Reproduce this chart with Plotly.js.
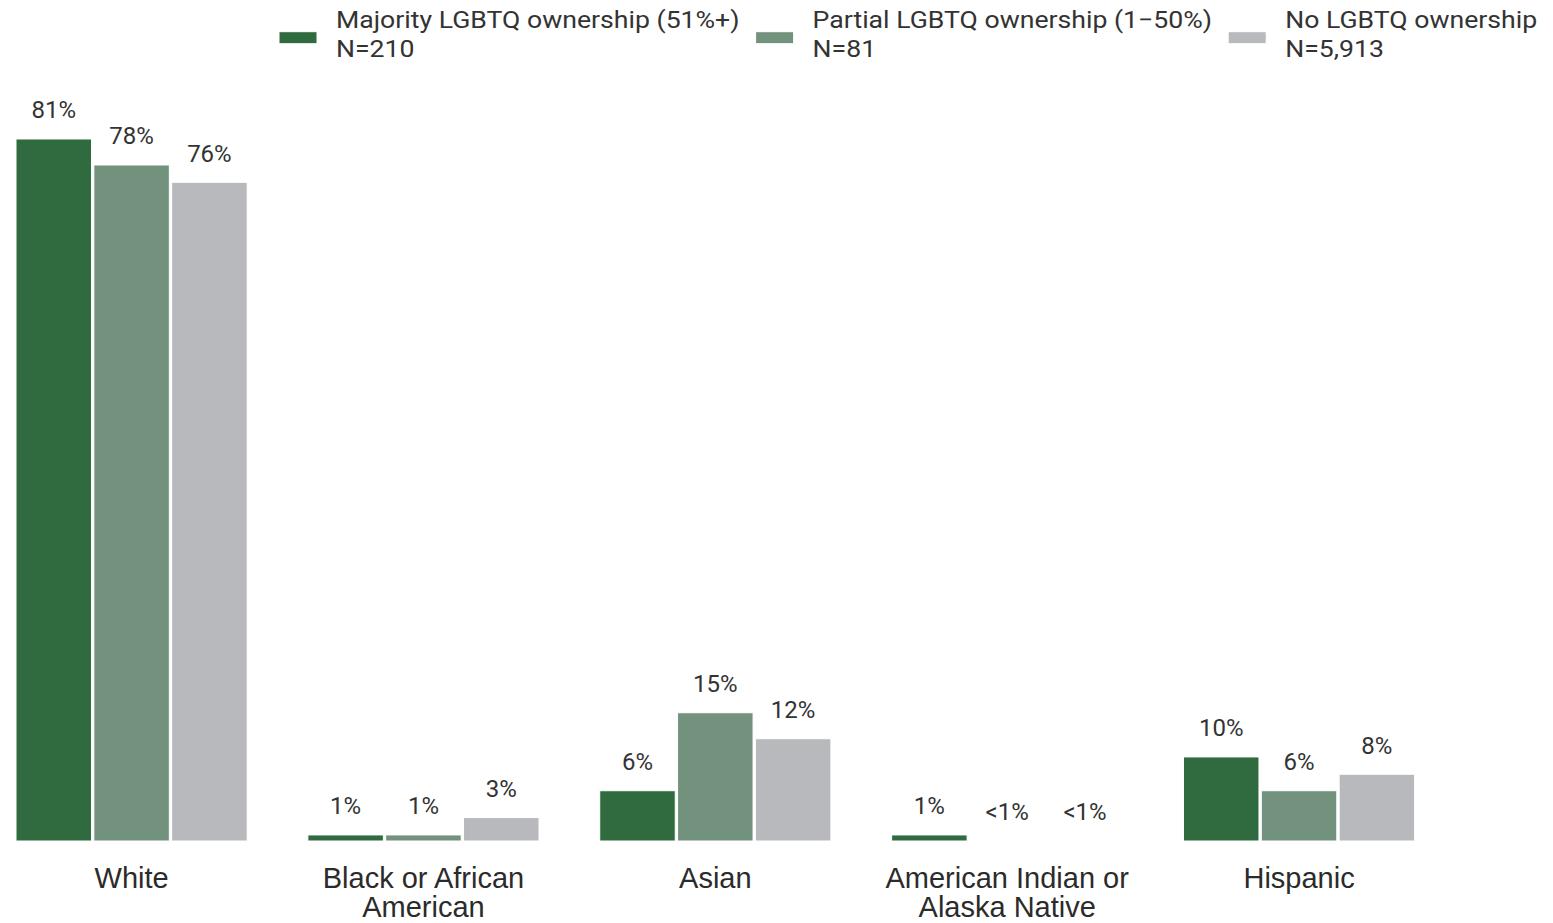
<!DOCTYPE html>
<html><head><meta charset="utf-8">
<script src="https://cdn.plot.ly/plotly-3.0.1.min.js"></script>
<style>html,body{margin:0;padding:0;background:#fff}#chart{width:1553px;height:923px}</style>
</head><body><div id="chart"></div>
<script>
const categories = ["White", "Black or African<br>American", "Asian", "American Indian or<br>Alaska Native", "Hispanic"];
const seriesNames = ["Majority LGBTQ ownership (51%+)<br>N=210", "Partial LGBTQ ownership (1\u221250%)<br>N=81", "No LGBTQ ownership<br>N=5,913"];
const majority = [81, 0.7, 5.8, 0.7, 9.7];
const partial = [78, 0.7, 14.8, 0, 5.8];
const none = [76, 2.7, 11.8, 0, 7.7];
const majorityLabels = ["81%", "1%", "6%", "1%", "10%"];
const partialLabels = ["78%", "1%", "15%", "<1%", "6%"];
const noneLabels = ["76%", "3%", "12%", "<1%", "8%"];
const colors = ["#2f6b3f", "#73927e", "#b8b9bd"];

const vals = [majority, partial, none];
const labs = [majorityLabels, partialLabels, noneLabels];
const traces = [];
vals.forEach((v, i) => {
  traces.push({
    type: "bar", x: categories, y: v, name: seriesNames[i],
    offsetgroup: "g" + i, alignmentgroup: "a",
    marker: {color: colors[i], line: {color: "#ffffff", width: 1}},
    hoverinfo: "skip"
  });
});
vals.forEach((v, i) => {
  traces.push({
    type: "scatter", mode: "markers+text", x: categories, y: v,
    offsetgroup: "g" + i, alignmentgroup: "a", showlegend: false,
    marker: {size: 22, opacity: 0, color: colors[i]},
    text: labs[i], textposition: "top center", cliponaxis: false,
    textfont: {size: 24, color: "#333333", family: "Roboto"},
    hoverinfo: "skip"
  });
});

const layout = {
  width: 1553, height: 923,
  paper_bgcolor: "#ffffff", plot_bgcolor: "#ffffff",
  font: {family: "Roboto, sans-serif", color: "#333333"},
  margin: {l: 16, r: 108, t: 90, b: 82},
  barmode: "group", bargap: 0.2, bargroupgap: 0.03,
  scattermode: "group", scattergap: 0.2,
  xaxis: {range: [-0.396, 4.5], showgrid: false, zeroline: false, showline: false, ticks: "",
          ticklabelstandoff: 17, tickfont: {size: 29, color: "#2b2b2b", family: "Liberation Sans, Arial, sans-serif"}},
  yaxis: {range: [0, 86.65], visible: false},
  showlegend: true,
  legend: {orientation: "h", xref: "container", x: 260 / 1553, xanchor: "left", yref: "container", y: 1, yanchor: "top",
           font: {size: 24, color: "#333333", family: "Roboto"}, traceorder: "normal", bgcolor: "rgba(0,0,0,0)",
           itemwidth: 66}
};

function stretchX(el, factor, dy) {
  const cx = parseFloat(el.getAttribute("x")) || 0;
  const prev = el.getAttribute("transform") || "";
  el.setAttribute("transform", prev + " translate(" + cx + "," + (dy || 0) + ") scale(" + factor + ",1) translate(" + (-cx) + ",0)");
}

Plotly.newPlot("chart", traces, layout, {displayModeBar: false, staticPlot: true}).then(() => {
  // tick labels: tighter line spacing
  document.querySelectorAll("#chart .xtick text tspan.line").forEach(ln => {
    const d = parseFloat(ln.getAttribute("dy")) || 0;
    if (d > 0) ln.setAttribute("dy", (d / 1.3) + "em");
  });
  // legend: tighter lines, wider glyphs, wide swatches
  const f = 1.11;
  document.querySelectorAll("#chart .legend [clip-path]").forEach(n => n.removeAttribute("clip-path"));
  const items = Array.from(document.querySelectorAll("#chart .legend g.traces"));
  let extra = 0;
  items.forEach(g => {
    const tr = g.getAttribute("transform") || "";
    const m = tr.match(/translate\(\s*([-\d.e]+)[ ,]+([-\d.e]+)\s*\)/);
    const t = g.querySelector("text.legendtext");
    const w = t.getBBox().width;
    t.querySelectorAll("tspan.line").forEach((ln, k) => ln.setAttribute("dy", (k * 1.17) + "em"));
    stretchX(t, f, -3);
    if (m) g.setAttribute("transform", "translate(" + (parseFloat(m[1]) + extra) + "," + m[2] + ")");
    extra += (f - 1) * w - 8;
    const p = g.querySelector(".legendpoints path");
    if (p) p.setAttribute("d", "M19,6H-19V-6H19Z");
  });
});
</script></body></html>
